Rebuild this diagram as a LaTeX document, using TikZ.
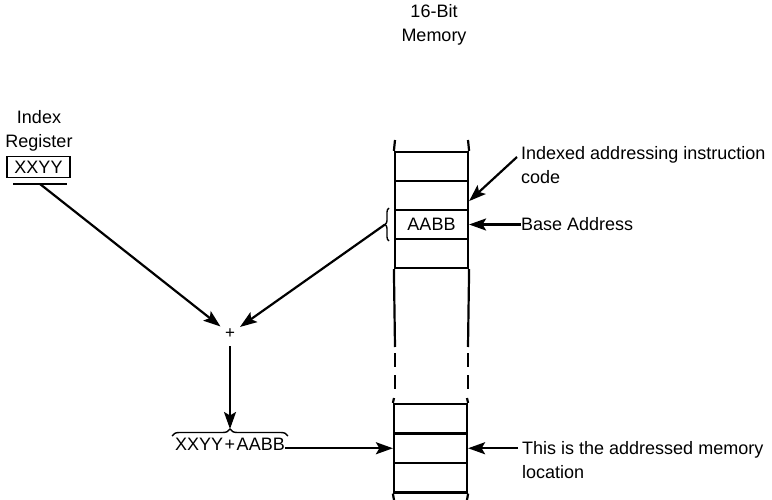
\documentclass[tikz,border=0pt]{standalone}
\usepackage{fontspec}
\setmainfont{Liberation Sans}
\usetikzlibrary{arrows.meta,decorations.pathreplacing}
\begin{document}
\begin{tikzpicture}[x=1pt,y=-1pt,
  lbl/.style={font=\fontsize{18}{24}\selectfont, inner sep=0pt},
  arr/.style={line width=2.2pt, -{Stealth[length=17pt,width=12pt,inset=3.5pt]}},
  mem/.style={line width=2.2pt},
  cell/.style={draw, line width=2.2pt, minimum width=73pt, minimum height=29pt, inner sep=0pt, font=\fontsize{18}{24}\selectfont},
  brc/.style={line width=1.4pt, decorate, decoration={brace, amplitude=#1}}
]
\useasboundingbox (0,0) rectangle (772,500);

% title
\node[lbl, align=center, anchor=north] (title) at (434,4) {16-Bit\\Memory};

% index register
\node[lbl, align=center, anchor=north] (ixlbl) at (39,110) {Index\\Register};
\node[lbl, draw, line width=1.6pt, minimum width=63pt, minimum height=21pt] (xr) at (38.5,167) {XXYY};
\draw[line width=2.2pt] (13,184) -- (67,184);
\coordinate (ul) at (40,184);

% memory cells (upper)
\node[cell] (c1) at (431.5,166.5) {};
\node[cell] (c2) at (431.5,195.5) {};
\node[cell] (aabb) at (431.5,224.5) {AABB};
\node[cell] (c4) at (431.5,253.5) {};
% memory cells (lower)
\node[cell, minimum height=29.5pt] (b1) at (430.5,418.75) {};
\node[cell, minimum height=29.5pt] (addr) at (430.5,448.25) {};
\node[cell, minimum height=29.5pt] (b3) at (430.5,477.75) {};

% column side lines
\draw[mem] (c1.north west) -- (395,140);
\draw[mem] (c1.north east) -- (468,140);
\draw[mem] (c4.south west) -- (395,347);
\draw[mem] (c4.south east) -- (468,347);
\draw[mem, dash pattern=on 14pt off 8pt] (395,353) -- (395,391);
\draw[mem, dash pattern=on 14pt off 8pt] (468,353) -- (468,391);
\draw[mem] (394,398) -- (b1.north west);
\draw[mem] (467,398) -- (b1.north east);
\draw[mem] (b3.south west) -- (394,500);
\draw[mem] (b3.south east) -- (467,500);

% bracket at AABB
\draw[brc=4pt] (389,241) -- (389,208);
\coordinate (bt) at (385,224.5);

% plus
\node[circle, minimum size=24pt, inner sep=0pt, font=\fontsize{17}{17}\selectfont] (plus) at (230,334) {+};

\draw[arr] (ul) -- (plus);
\draw[arr] (bt) -- (plus);

% sum
\draw[brc=7pt] (172,436) -- (288,436);
\coordinate (st) at (230,429);
\draw[arr] (plus.south) -- (st);
\node[lbl, anchor=base] (sum) at (230,450) {XXYY\kern1.5pt+\kern1.5ptAABB};
\draw[arr] (sum.east |- addr.west) -- (addr.west);

% right labels
\node[lbl, align=left, anchor=north west] (idx) at (521,146) {Indexed addressing instruction\\code};
\coordinate (idxs) at (517,157);
\coordinate (c2r) at ([yshift=10pt]c2.south east);
\draw[arr] (idxs) -- (c2r);

\node[lbl, anchor=west] (base) at (521,224.5) {Base Address};
\draw[arr] (base.west) -- (aabb.east);

\node[lbl, align=left, anchor=north west] (this) at (522,441) {This is the addressed memory\\location};
\coordinate (ts) at (518,448.25);
\draw[arr] (ts) -- (addr.east);
\end{tikzpicture}
\end{document}
